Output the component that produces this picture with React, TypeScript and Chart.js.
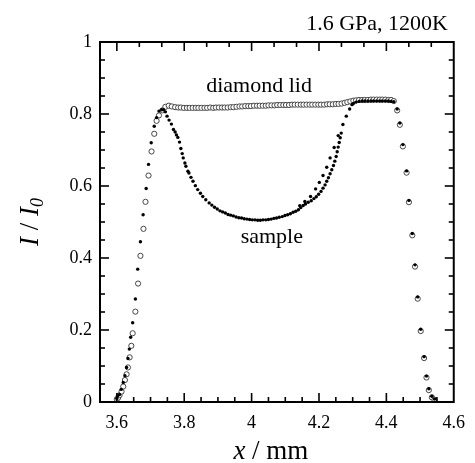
import React, { useEffect, useRef } from "react";
import { Chart, registerables } from "chart.js";

Chart.register(...registerables);

// ---- data ----
const lidX = [
  3.600, 3.604, 3.608, 3.614, 3.619, 3.624, 3.629, 3.633, 3.638, 3.643, 3.647, 3.655, 3.663, 3.670, 3.679, 3.685,
  3.694, 3.703, 3.711, 3.718, 3.725, 3.735, 3.744, 3.754, 3.763, 3.773,
  3.782, 3.790, 3.799, 3.808, 3.816, 3.825, 3.834, 3.842, 3.851, 3.860, 3.868, 3.877, 3.886, 3.894, 3.903, 3.912,
  3.920, 3.929, 3.938, 3.946, 3.955, 3.964, 3.972, 3.981, 3.990, 3.998, 4.007, 4.016, 4.024, 4.033, 4.042, 4.050,
  4.059, 4.068, 4.076, 4.085, 4.094, 4.102, 4.111, 4.120, 4.128, 4.137, 4.146, 4.154, 4.163, 4.172, 4.180, 4.189,
  4.198, 4.206, 4.215, 4.224, 4.232, 4.241, 4.250, 4.258, 4.267, 4.276, 4.284, 4.293, 4.302, 4.310, 4.319, 4.328,
  4.336, 4.345, 4.354, 4.362, 4.371, 4.380, 4.388, 4.397, 4.406, 4.414, 4.422,
  4.432, 4.440, 4.449, 4.460, 4.467, 4.477, 4.485, 4.493, 4.502, 4.512, 4.519, 4.526, 4.535, 4.543,
];
const lidY = [
  0.008, 0.012, 0.019, 0.029, 0.043, 0.061, 0.077, 0.096, 0.124, 0.156, 0.191, 0.251, 0.329, 0.406, 0.481, 0.556,
  0.629, 0.696, 0.745, 0.781, 0.796, 0.810, 0.820, 0.823, 0.821, 0.819,
  0.818, 0.818, 0.817, 0.817, 0.817, 0.817, 0.817, 0.817, 0.817, 0.817, 0.817, 0.818, 0.817, 0.818, 0.818, 0.818,
  0.818, 0.818, 0.819, 0.819, 0.820, 0.821, 0.821, 0.822, 0.822, 0.822, 0.823, 0.823, 0.823, 0.823, 0.823, 0.824,
  0.824, 0.824, 0.825, 0.825, 0.825, 0.825, 0.825, 0.826, 0.826, 0.826, 0.826, 0.826, 0.826, 0.826, 0.826, 0.826,
  0.826, 0.826, 0.826, 0.827, 0.827, 0.827, 0.828, 0.828, 0.829, 0.831, 0.833, 0.835, 0.837, 0.838, 0.839, 0.839,
  0.839, 0.839, 0.840, 0.840, 0.840, 0.840, 0.840, 0.840, 0.839, 0.839, 0.836,
  0.810, 0.770, 0.710, 0.637, 0.555, 0.463, 0.376, 0.287, 0.197, 0.122, 0.068, 0.033, 0.013, 0.006,
];

const sampleX = [
  3.600, 3.602, 3.608, 3.613, 3.619, 3.624, 3.629, 3.633, 3.637, 3.641, 3.647, 3.655, 3.662, 3.670, 3.678, 3.687,
  3.694, 3.702, 3.711, 3.718, 3.725, 3.733, 3.739, 3.744, 3.749,
  3.755, 3.762, 3.768, 3.773, 3.777, 3.781, 3.786, 3.790, 3.794, 3.797, 3.802, 3.805, 3.811, 3.814, 3.820, 3.826,
  3.833, 3.840, 3.848, 3.855, 3.864, 3.874, 3.882, 3.890, 3.898, 3.906, 3.914, 3.922, 3.930, 3.938, 3.946, 3.954,
  3.962, 3.970, 3.978, 3.986, 3.994, 4.002, 4.010, 4.018, 4.026, 4.034, 4.042, 4.050, 4.058, 4.066, 4.074, 4.082,
  4.091, 4.099, 4.107, 4.115, 4.123, 4.131, 4.139, 4.146, 4.153,
  4.160, 4.168, 4.177, 4.185, 4.192, 4.199, 4.206, 4.212, 4.218, 4.223, 4.228, 4.233, 4.238, 4.243, 4.247, 4.251,
  4.254, 4.257, 4.260, 4.263, 4.266,
  4.298, 4.302, 4.310, 4.319, 4.328, 4.336, 4.345, 4.354, 4.362, 4.371, 4.380, 4.388, 4.397, 4.406, 4.414, 4.422,
  4.432, 4.440, 4.449, 4.460, 4.467, 4.477, 4.485, 4.493, 4.502, 4.512, 4.519, 4.526, 4.535, 4.543,
];
const sampleY = [
  0.010, 0.017, 0.021, 0.035, 0.054, 0.073, 0.096, 0.121, 0.147, 0.180, 0.220, 0.286, 0.369, 0.445, 0.520, 0.593,
  0.660, 0.720, 0.766, 0.790, 0.808, 0.812, 0.812, 0.806, 0.794,
  0.783, 0.772, 0.757, 0.750, 0.742, 0.735, 0.722, 0.704, 0.690, 0.678, 0.664, 0.655, 0.641, 0.636, 0.624, 0.613,
  0.601, 0.590, 0.580, 0.571, 0.562, 0.553, 0.547, 0.541, 0.536, 0.531, 0.528, 0.525, 0.521, 0.519, 0.517, 0.514,
  0.512, 0.511, 0.509, 0.508, 0.507, 0.506, 0.506, 0.505, 0.505, 0.506, 0.506, 0.507, 0.508, 0.510, 0.511, 0.513,
  0.515, 0.518, 0.520, 0.523, 0.527, 0.530, 0.534, 0.540, 0.546,
  0.550, 0.555, 0.559, 0.565, 0.570, 0.577, 0.585, 0.594, 0.603, 0.613, 0.623, 0.634, 0.645, 0.657, 0.669, 0.682,
  0.695, 0.708, 0.721, 0.734, 0.747,
  0.826, 0.829, 0.833, 0.835, 0.836, 0.836, 0.836, 0.836, 0.836, 0.836, 0.836, 0.836, 0.836, 0.836, 0.835, 0.834,
  0.814, 0.775, 0.715, 0.642, 0.560, 0.468, 0.381, 0.292, 0.202, 0.126, 0.072, 0.037, 0.016, 0.008,
];

// second (outer) branch of the sample trace on the right-hand rise
const sampleBranchX = [4.143, 4.158, 4.175, 4.190, 4.201, 4.212, 4.223, 4.233, 4.245, 4.257, 4.271, 4.281, 4.291];
const sampleBranchY = [0.545, 0.557, 0.571, 0.592, 0.610, 0.629, 0.652, 0.678, 0.707, 0.740, 0.771, 0.794, 0.814];

const xTicks = [3.6, 3.8, 4.0, 4.2, 4.4, 4.6];
const yTicks = [0, 0.2, 0.4, 0.6, 0.8, 1];
const xMin = 3.55;
const xMax = 4.6;
const yMin = 0;
const yMax = 1;

const titleText = "1.6 GPa, 1200K";
const lidLabel = "diamond lid";
const sampleLabel = "sample";

const SERIF = '"Liberation Serif", "Times New Roman", serif';

function fmt(v: number) {
  return String(Number(v.toFixed(2)));
}

function drawParts(ctx: CanvasRenderingContext2D, parts: any[], cx: number, baseY: number) {
  let total = 0;
  for (const p of parts) {
    ctx.font = p.font;
    total += ctx.measureText(p.t).width;
  }
  let x = cx - total / 2;
  ctx.textAlign = "left";
  ctx.textBaseline = "alphabetic";
  for (const p of parts) {
    ctx.font = p.font;
    ctx.fillText(p.t, x, baseY + (p.dy || 0));
    x += ctx.measureText(p.t).width;
  }
}

const framePlugin = {
  id: "frame",
  afterDatasetsDraw(chart: any) {
    const { ctx, chartArea: a, scales } = chart;
    const xs = scales.x;
    const ys = scales.y;
    ctx.save();
    ctx.strokeStyle = "#000";
    ctx.fillStyle = "#000";
    // frame
    ctx.lineWidth = 2;
    ctx.strokeRect(a.left, a.top, a.right - a.left, a.bottom - a.top);
    ctx.lineWidth = 1.6;
    const line = (x1: number, y1: number, x2: number, y2: number) => {
      ctx.beginPath();
      ctx.moveTo(x1, y1);
      ctx.lineTo(x2, y2);
      ctx.stroke();
    };
    const isMajor = (v: number, base: number, step: number) => {
      const r = (v - base) / step;
      return Math.abs(r - Math.round(r)) < 1e-6;
    };
    // bottom ticks: minor 0.05, major 0.2
    for (let i = 1; ; i++) {
      const v = xMin + i * 0.05;
      if (v > xMax - 1e-6) break;
      const px = xs.getPixelForValue(v);
      line(px, a.bottom, px, a.bottom - (isMajor(v, 3.6, 0.2) ? 9 : 5));
    }
    // top ticks: minor every 0.2/3, major 0.2
    for (let i = 0; ; i++) {
      const v = 3.6 + (i * 0.2) / 3;
      if (v > xMax - 1e-6) break;
      const px = xs.getPixelForValue(v);
      line(px, a.top, px, a.top + (i % 3 === 0 ? 9 : 5));
    }
    // left / right ticks
    for (let i = 1; i < 20; i++) {
      const v = yMin + i * 0.05;
      const py = ys.getPixelForValue(v);
      const len = i % 4 === 0 ? 9 : 5;
      line(a.left, py, a.left + len, py);
      line(a.right, py, a.right - len, py);
    }

    // annotations
    ctx.textAlign = "center";
    ctx.textBaseline = "alphabetic";
    ctx.font = `22px ${SERIF}`;
    ctx.fillText(lidLabel, xs.getPixelForValue(4.022), ys.getPixelForValue(0.862));
    ctx.fillText(sampleLabel, xs.getPixelForValue(4.06), ys.getPixelForValue(0.441));

    // title
    ctx.textAlign = "right";
    ctx.font = `22px ${SERIF}`;
    ctx.fillText(titleText, 448, 30);

    // x axis title
    drawParts(
      ctx,
      [
        { t: "x", font: `italic 27px ${SERIF}` },
        { t: " / mm", font: `27px ${SERIF}` },
      ],
      (a.left + a.right) / 2 - 6,
      459
    );

    // y axis title (rotated)
    ctx.save();
    ctx.translate(38, (a.top + a.bottom) / 2);
    ctx.rotate(-Math.PI / 2);
    drawParts(
      ctx,
      [
        { t: "I", font: `italic 27px ${SERIF}` },
        { t: " / ", font: `27px ${SERIF}` },
        { t: "I", font: `italic 27px ${SERIF}` },
        { t: "0", font: `italic 18px ${SERIF}`, dy: 5 },
      ],
      0,
      0
    );
    ctx.restore();

    ctx.restore();
  },
};

export default function App() {
  const canvasRef = useRef<HTMLCanvasElement | null>(null);

  useEffect(() => {
    const canvas = canvasRef.current;
    if (!canvas) return;
    const lidData = lidX.map((x, i) => ({ x, y: lidY[i] }));
    const sampleData = sampleX
      .map((x, i) => ({ x, y: sampleY[i] }))
      .concat(sampleBranchX.map((x, i) => ({ x, y: sampleBranchY[i] })));

    const chart = new Chart(canvas, {
      type: "scatter",
      data: {
        datasets: [
          {
            label: "diamond lid",
            data: lidData,
            order: 2,
            pointStyle: "circle",
            pointRadius: 2.6,
            pointBorderWidth: 0.9,
            pointBorderColor: "#333",
            pointBackgroundColor: "#fff",
          },
          {
            label: "sample",
            data: sampleData,
            order: 1,
            pointStyle: "circle",
            pointRadius: 1.7,
            pointBorderWidth: 0,
            pointBackgroundColor: "#000",
            pointBorderColor: "#000",
          },
        ],
      },
      options: {
        responsive: false,
        animation: false,
        events: [],
        layout: { padding: { top: 42, right: 13, left: 0, bottom: 0 } },
        plugins: {
          legend: { display: false },
          tooltip: { enabled: false },
          title: { display: false },
        },
        scales: {
          x: {
            type: "linear",
            min: xMin,
            max: xMax,
            grid: { display: false, drawTicks: false },
            border: { display: false },
            afterFit: (s: any) => {
              s.height = 61;
            },
            afterBuildTicks: (s: any) => {
              s.ticks = xTicks.map((value) => ({ value }));
            },
            ticks: {
              autoSkip: false,
              maxRotation: 0,
              padding: 10,
              color: "#000",
              font: { family: SERIF, size: 18 },
              callback: (v: any) => fmt(Number(v)),
            },
          },
          y: {
            type: "linear",
            min: yMin,
            max: yMax,
            grid: { display: false, drawTicks: false },
            border: { display: false },
            afterFit: (s: any) => {
              s.width = 100;
            },
            afterBuildTicks: (s: any) => {
              s.ticks = yTicks.map((value) => ({ value }));
            },
            ticks: {
              autoSkip: false,
              padding: 8,
              color: "#000",
              font: { family: SERIF, size: 18 },
              callback: (v: any) => fmt(Number(v)),
            },
          },
        },
      },
      plugins: [framePlugin],
    });
    return () => chart.destroy();
  }, []);

  return (
    <div style={{ position: "absolute", left: 0, top: 0, width: 475, height: 463, background: "#fff" }}>
      <canvas ref={canvasRef} width={475} height={463} style={{ display: "block" }} />
    </div>
  );
}
